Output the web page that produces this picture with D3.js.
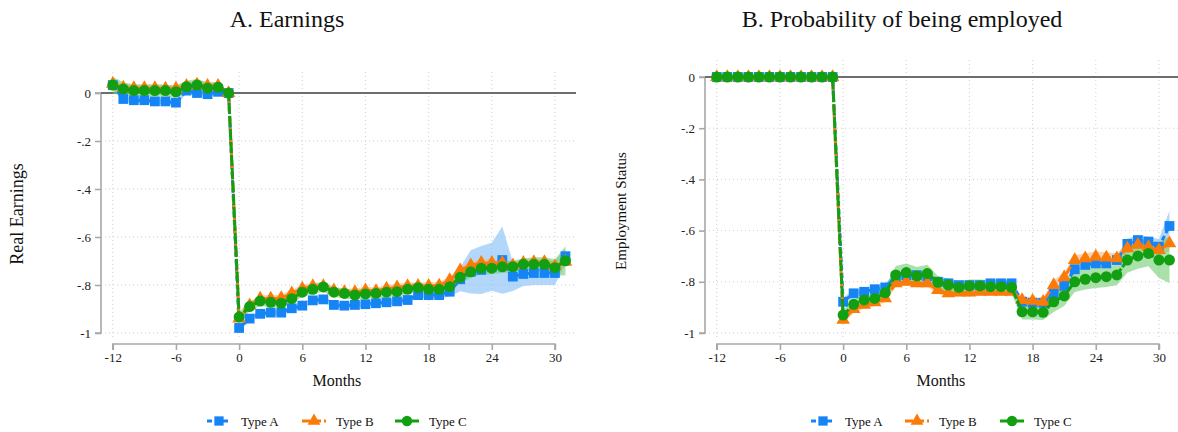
<!DOCTYPE html>
<html>
<head>
<meta charset="utf-8">
<script src="https://cdn.jsdelivr.net/npm/d3@7"></script>
<style>
  html, body { margin: 0; padding: 0; background: #fff; }
  svg { display: block; font-family: "Liberation Serif", "DejaVu Serif", serif; }
</style>
</head>
<body>
<svg id="chart" width="1178" height="432"></svg>
<script>
// Event-time axis (months relative to job loss)
const months = [-12, -11, -10, -9, -8, -7, -6, -5, -4, -3, -2, -1,
  0, 1, 2, 3, 4, 5, 6, 7, 8, 9, 10, 11, 12, 13, 14, 15, 16, 17, 18, 19,
  20, 21, 22, 23, 24, 25, 26, 27, 28, 29, 30, 31];

const seriesNames = ["Type A", "Type B", "Type C"];
const xTicks = [-12, -6, 0, 6, 12, 18, 24, 30];
const xTickLabels = ["-12", "-6", "0", "6", "12", "18", "24", "30"];
const yTicks = [0, -0.2, -0.4, -0.6, -0.8, -1];
const yTickLabels = ["0", "-.2", "-.4", "-.6", "-.8", "-1"];

// Panel A: real earnings, point estimates
const earningsA = [0.033, -0.025, -0.03, -0.03, -0.035, -0.035, -0.04, 0.01, 0.0, -0.005, 0.005, 0,
  -0.979, -0.94, -0.92, -0.915, -0.915, -0.897, -0.886, -0.864, -0.86, -0.883, -0.886, -0.883,
  -0.88, -0.876, -0.872, -0.868, -0.8625, -0.842, -0.842, -0.842, -0.828, -0.776, -0.745, -0.737,
  -0.724, -0.696, -0.765, -0.754, -0.75, -0.75, -0.75, -0.68];
const earningsB = [0.038, 0.022, 0.02, 0.02, 0.02, 0.018, 0.018, 0.03, 0.035, 0.03, 0.03, 0,
  -0.94, -0.885, -0.857, -0.857, -0.855, -0.835, -0.815, -0.805, -0.805, -0.822, -0.83, -0.83,
  -0.822, -0.825, -0.815, -0.81, -0.805, -0.804, -0.804, -0.802, -0.78, -0.739, -0.718, -0.708,
  -0.708, -0.708, -0.718, -0.708, -0.705, -0.705, -0.722, -0.703];
const earningsC = [0.033, 0.017, 0.01, 0.01, 0.01, 0.01, 0.005, 0.026, 0.033, 0.02, 0.024, 0,
  -0.933, -0.89, -0.867, -0.872, -0.876, -0.857, -0.83, -0.818, -0.808, -0.83, -0.835, -0.842,
  -0.837, -0.835, -0.83, -0.828, -0.818, -0.811, -0.818, -0.818, -0.807, -0.768, -0.745, -0.73,
  -0.73, -0.724, -0.724, -0.714, -0.714, -0.714, -0.728, -0.699];

// Panel A: confidence-band half-widths
const earningsCiA = [0.012, 0.012, 0.012, 0.012, 0.012, 0.012, 0.012, 0.012, 0.012, 0.012, 0.012, 0,
  0.012, 0.012, 0.012, 0.012, 0.012, 0.012, 0.012, 0.012, 0.012, 0.012, 0.012, 0.012,
  0.012, 0.012, 0.012, 0.012, 0.012, 0.012, 0.012, 0.015, 0.02, 0.05, 0.09, 0.1,
  0.1, 0.14, 0.06, 0.05, 0.05, 0.05, 0.05, 0.03];
const earningsCiB = [0.02, 0.015, 0.015, 0.015, 0.015, 0.015, 0.015, 0.015, 0.015, 0.015, 0.015, 0,
  0.015, 0.015, 0.015, 0.015, 0.015, 0.015, 0.015, 0.015, 0.015, 0.015, 0.015, 0.015,
  0.015, 0.015, 0.015, 0.015, 0.015, 0.015, 0.015, 0.015, 0.015, 0.015, 0.015, 0.015,
  0.015, 0.015, 0.015, 0.015, 0.015, 0.015, 0.02, 0.02];
const earningsCiC = [0.035, 0.028, 0.025, 0.025, 0.025, 0.025, 0.025, 0.025, 0.025, 0.025, 0.02, 0,
  0.02, 0.02, 0.02, 0.02, 0.02, 0.02, 0.02, 0.02, 0.02, 0.02, 0.02, 0.02,
  0.02, 0.02, 0.02, 0.02, 0.02, 0.02, 0.02, 0.02, 0.02, 0.025, 0.025, 0.025,
  0.025, 0.025, 0.025, 0.025, 0.03, 0.03, 0.035, 0.06];

// Panel B: employment status, point estimates
const employedA = [0, 0, 0, 0, 0, 0, 0, 0, 0, 0, 0, 0,
  -0.878, -0.845, -0.839, -0.829, -0.822, -0.78, -0.774, -0.774, -0.778, -0.8, -0.806, -0.813,
  -0.813, -0.813, -0.806, -0.806, -0.806, -0.878, -0.882, -0.882, -0.845, -0.816, -0.751, -0.734,
  -0.728, -0.728, -0.715, -0.652, -0.637, -0.643, -0.663, -0.582];
const employedB = [0, 0, 0, 0, 0, 0, 0, 0, 0, 0, 0, 0,
  -0.949, -0.907, -0.89, -0.88, -0.865, -0.806, -0.8, -0.806, -0.806, -0.832, -0.845, -0.842,
  -0.842, -0.839, -0.839, -0.839, -0.839, -0.871, -0.874, -0.878, -0.8125, -0.783, -0.715, -0.708,
  -0.702, -0.705, -0.708, -0.669, -0.656, -0.664, -0.676, -0.65];
const employedC = [0, 0, 0, 0, 0, 0, 0, 0, 0, 0, 0, 0,
  -0.93, -0.888, -0.871, -0.865, -0.843, -0.773, -0.764, -0.777, -0.768, -0.802, -0.8125, -0.822,
  -0.816, -0.816, -0.819, -0.819, -0.822, -0.917, -0.917, -0.919, -0.878, -0.855, -0.8, -0.79,
  -0.784, -0.78, -0.773, -0.715, -0.699, -0.689, -0.715, -0.715];

// Panel B: confidence-band half-widths
const employedCiA = [0.004, 0.004, 0.004, 0.004, 0.004, 0.004, 0.004, 0.004, 0.004, 0.004, 0.004, 0,
  0.015, 0.015, 0.015, 0.015, 0.015, 0.015, 0.015, 0.015, 0.015, 0.015, 0.015, 0.015,
  0.015, 0.015, 0.015, 0.015, 0.015, 0.015, 0.015, 0.015, 0.015, 0.015, 0.015, 0.015,
  0.015, 0.015, 0.015, 0.02, 0.02, 0.02, 0.03, 0.06];
const employedCiB = [0.004, 0.004, 0.004, 0.004, 0.004, 0.004, 0.004, 0.004, 0.004, 0.004, 0.004, 0,
  0.015, 0.015, 0.015, 0.015, 0.015, 0.015, 0.015, 0.015, 0.015, 0.015, 0.015, 0.015,
  0.015, 0.015, 0.015, 0.015, 0.015, 0.015, 0.015, 0.015, 0.02, 0.02, 0.02, 0.02,
  0.02, 0.02, 0.02, 0.02, 0.02, 0.02, 0.025, 0.03];
const employedCiC = [0.005, 0.005, 0.005, 0.005, 0.005, 0.005, 0.005, 0.005, 0.005, 0.005, 0.005, 0,
  0.02, 0.02, 0.02, 0.02, 0.025, 0.035, 0.035, 0.035, 0.035, 0.025, 0.025, 0.025,
  0.025, 0.025, 0.025, 0.025, 0.025, 0.03, 0.03, 0.03, 0.04, 0.04, 0.04, 0.04,
  0.04, 0.04, 0.04, 0.05, 0.05, 0.05, 0.07, 0.09];

// Visual styling per series
const colors = ["#1585f5", "#fb7b08", "#12a012"];
const bandColors = ["#7fbdf7", "#fbb57a", "#72cc72"];
const dashes = ["5,3", "8,3", "11,2"];
const shapes = [d3.symbolSquare, d3.symbolTriangle, d3.symbolCircle];
const shapeSizes = [96, 80, 95];

const svg = d3.select("#chart");
const font = "'Liberation Serif', 'DejaVu Serif', serif";

function drawPanel(cfg) {
  const g = svg.append("g");
  const x = d3.scaleLinear().domain([-13.12, 32]).range([cfg.left, cfg.right]);
  const y = d3.scaleLinear().domain([0, -1]).range([cfg.y0, cfg.y1]);
  const top = cfg.top, bottom = 338;

  // dotted grid
  g.append("g").selectAll("line").data(xTicks).join("line")
    .attr("x1", d => x(d)).attr("x2", d => x(d))
    .attr("y1", top).attr("y2", bottom)
    .attr("stroke", "#cfcfcf").attr("stroke-width", 1).attr("stroke-dasharray", "1,3");
  g.append("g").selectAll("line").data(yTicks).join("line")
    .attr("x1", cfg.left).attr("x2", cfg.right)
    .attr("y1", d => y(d)).attr("y2", d => y(d))
    .attr("stroke", "#cfcfcf").attr("stroke-width", 1).attr("stroke-dasharray", "1,3");

  // y axis spanning the tick range
  const yAxis = d3.axisLeft(y).tickValues(yTicks)
    .tickFormat((d, i) => yTickLabels[i]).tickSize(6).tickPadding(4);
  const ya = g.append("g").attr("transform", `translate(${cfg.left},0)`).call(yAxis);
  ya.select(".domain").attr("d", `M-6,${y(0)}H0V${y(-1)}H-6`);
  // x axis spanning the tick range
  const xAxis = d3.axisBottom(x).tickValues(xTicks)
    .tickFormat((d, i) => xTickLabels[i]).tickSize(6).tickPadding(3);
  const xa = g.append("g").attr("transform", "translate(0,344)").call(xAxis);
  xa.select(".domain").attr("d", `M${x(-12)},6V0H${x(30)}V6`);
  [ya, xa].forEach(a => {
    a.attr("font-family", font).attr("font-size", 13);
    a.select(".domain").attr("stroke", "#a8a8a8").attr("stroke-width", 1.6).attr("fill", "none");
    a.selectAll(".tick line").attr("stroke", "#a8a8a8").attr("stroke-width", 1.6);
    a.selectAll(".tick text").attr("fill", "#222").style("font-family", font).style("font-size", "13px");
  });

  // reference line at zero
  g.append("line").attr("x1", cfg.left).attr("x2", cfg.right)
    .attr("y1", y(0)).attr("y2", y(0))
    .attr("stroke", "#6e6e6e").attr("stroke-width", 2.2);

  // confidence bands
  cfg.series.forEach((s, k) => {
    const area = d3.area()
      .x((d, i) => x(months[i]))
      .y0((d, i) => y(d - s.ci[i]))
      .y1((d, i) => y(d + s.ci[i]));
    g.append("path").datum(s.values).attr("d", area)
      .attr("fill", bandColors[k]).attr("fill-opacity", 0.6);
  });

  // connecting lines and markers
  cfg.series.forEach((s, k) => {
    const line = d3.line().x((d, i) => x(months[i])).y(d => y(d));
    g.append("path").datum(s.values).attr("d", line)
      .attr("fill", "none").attr("stroke", colors[k]).attr("stroke-width", 3)
      .attr("stroke-dasharray", dashes[k]);
    g.append("g").selectAll("path").data(s.values).join("path")
      .attr("transform", (d, i) => `translate(${x(months[i])},${y(d)})`)
      .attr("d", d3.symbol().type(shapes[k]).size(shapeSizes[k]))
      .attr("fill", colors[k]);
  });

  // titles
  g.append("text").attr("x", cfg.titleX).attr("y", 27).attr("text-anchor", "middle")
    .style("font-family", font).style("font-size", "24px").attr("fill", "#111").text(cfg.title);
  g.append("text").attr("x", (x(-12) + x(30)) / 2 + 3).attr("y", 386).attr("text-anchor", "middle")
    .style("font-family", font).style("font-size", "16px").attr("fill", "#111").text("Months");
  g.append("text").attr("transform", `translate(${cfg.yTitleX},${cfg.yTitleY}) rotate(-90)`)
    .attr("text-anchor", "middle")
    .style("font-family", font).style("font-size", cfg.yTitleSize + "px").attr("fill", "#111").text(cfg.yTitle);

  // legend
  const lg = g.append("g").attr("transform", "translate(0,421)");
  seriesNames.forEach((name, k) => {
    const cx = cfg.legendX[k];
    lg.append("line").attr("x1", cx - 12).attr("x2", cx + 12).attr("y1", 0).attr("y2", 0)
      .attr("stroke", colors[k]).attr("stroke-width", 3).attr("stroke-dasharray", dashes[k]);
    lg.append("path").attr("transform", `translate(${cx},0)`)
      .attr("d", d3.symbol().type(shapes[k]).size(shapeSizes[k] * 0.9)).attr("fill", colors[k]);
    lg.append("text").attr("x", cx + 22).attr("y", 4.5)
      .style("font-family", font).style("font-size", "13px").attr("fill", "#111").text(name);
  });
}

drawPanel({
  left: 101, right: 576, y0: 93, y1: 333, top: 72,
  title: "A. Earnings", titleX: 287,
  yTitle: "Real Earnings", yTitleX: 23, yTitleY: 214, yTitleSize: 18,
  legendX: [219, 314, 407],
  series: [
    { values: earningsA, ci: earningsCiA },
    { values: earningsB, ci: earningsCiB },
    { values: earningsC, ci: earningsCiC }
  ]
});

drawPanel({
  left: 705, right: 1180, y0: 77, y1: 333, top: 60,
  title: "B. Probability of being employed", titleX: 902,
  yTitle: "Employment Status", yTitleX: 626, yTitleY: 211, yTitleSize: 15,
  legendX: [823, 917, 1012],
  series: [
    { values: employedA, ci: employedCiA },
    { values: employedB, ci: employedCiB },
    { values: employedC, ci: employedCiC }
  ]
});
</script>
</body>
</html>
